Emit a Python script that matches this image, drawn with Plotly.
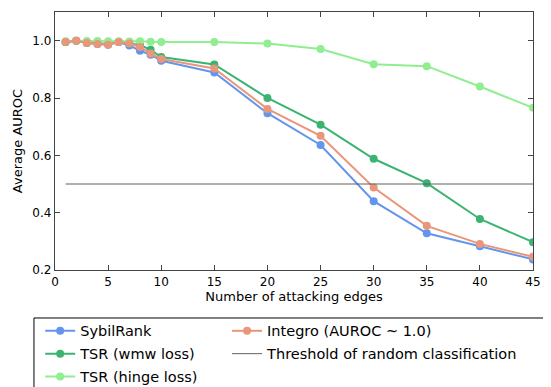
import plotly.graph_objects as go

x = [1, 2, 3, 4, 5, 6, 7, 8, 9, 10, 15, 20, 25, 30, 35, 40, 45]
sybilrank = [0.995, 1.0, 0.992, 0.988, 0.986, 0.995, 0.983, 0.965, 0.951, 0.930, 0.889, 0.747, 0.636, 0.440, 0.328, 0.283, 0.237]
tsr_wmw = [0.995, 1.0, 0.993, 0.990, 0.988, 0.995, 0.990, 0.985, 0.968, 0.943, 0.917, 0.800, 0.707, 0.588, 0.503, 0.378, 0.297]
tsr_hinge = [0.998, 1.0, 0.999, 0.999, 0.998, 0.998, 0.997, 0.998, 0.996, 0.995, 0.995, 0.990, 0.971, 0.918, 0.911, 0.840, 0.766]
integro = [0.995, 1.0, 0.992, 0.988, 0.986, 0.995, 0.990, 0.978, 0.955, 0.936, 0.903, 0.762, 0.668, 0.488, 0.354, 0.291, 0.246]
threshold_x = [1, 45]
threshold_y = [0.5, 0.5]

x_ticks = [0, 5, 10, 15, 20, 25, 30, 35, 40, 45]
y_ticks = [0.2, 0.4, 0.6, 0.8, 1.0]

C_BLUE = "#6495ED"
C_DG = "#3CB371"
C_LG = "#90EE90"
C_OR = "#E9967A"

fig = go.Figure()

def add(name, y, color, legend, rank):
    fig.add_trace(go.Scatter(
        x=x, y=y, name=name, mode="lines+markers",
        line=dict(color=color, width=2),
        marker=dict(color=color, size=8, symbol="circle"),
        legend=legend, legendgroup=name, legendrank=rank,
    ))

add("SybilRank", sybilrank, C_BLUE, "legend", 1)
add("TSR (wmw loss)", tsr_wmw, C_DG, "legend", 2)
add("TSR (hinge loss)", tsr_hinge, C_LG, "legend", 3)
add("Integro (AUROC ~ 1.0)", integro, C_OR, "legend2", 4)
fig.add_trace(go.Scatter(
    x=threshold_x, y=threshold_y, mode="lines", name="Threshold of random classification",
    line=dict(color="#606060", width=1), legend="legend2", legendgroup="thr", legendrank=5,
))

axis_common = dict(
    showgrid=False, zeroline=False, showline=True, linecolor="#444444", linewidth=1.3,
    mirror="ticks", ticks="inside", ticklen=5, tickcolor="#444444",
    tickfont=dict(family="DejaVu Sans", size=12, color="black"),
)

fig.update_xaxes(range=[0, 45], tickvals=x_ticks, ticktext=[str(v) for v in x_ticks],
                 title=dict(text="Number of attacking edges", font=dict(family="DejaVu Sans", size=13, color="black"), standoff=4),
                 **axis_common)
fig.update_yaxes(range=[0.2, 1.1], tickvals=y_ticks, ticktext=[f"{v:.1f}" for v in y_ticks],
                 title=dict(text="Average AUROC", font=dict(family="DejaVu Sans", size=13, color="black"), standoff=6),
                 **axis_common)

legend_common = dict(
    orientation="v", xanchor="left", yanchor="top", traceorder="grouped",
    font=dict(family="DejaVu Sans", size=14.5, color="black"),
    bgcolor="rgba(0,0,0,0)", tracegroupgap=1, itemclick=False,
)

# The page body has an 8px margin, so the figure is sized/offset to match the 551x387 window.
fig.update_layout(
    width=543, height=379,
    margin=dict(l=47, r=18, t=4, b=117, autoexpand=False),
    paper_bgcolor="white", plot_bgcolor="white",
    showlegend=True,
    legend=dict(x=-0.031, y=-0.174, **legend_common),
    legend2=dict(x=0.36, y=-0.174, **legend_common),
    shapes=[dict(type="rect", xref="paper", yref="paper",
                 x0=-0.044, x1=1.1, y0=-0.186, y1=-0.6,
                 line=dict(color="black", width=1), fillcolor="rgba(0,0,0,0)")],
)

fig.write_html("out.html")
